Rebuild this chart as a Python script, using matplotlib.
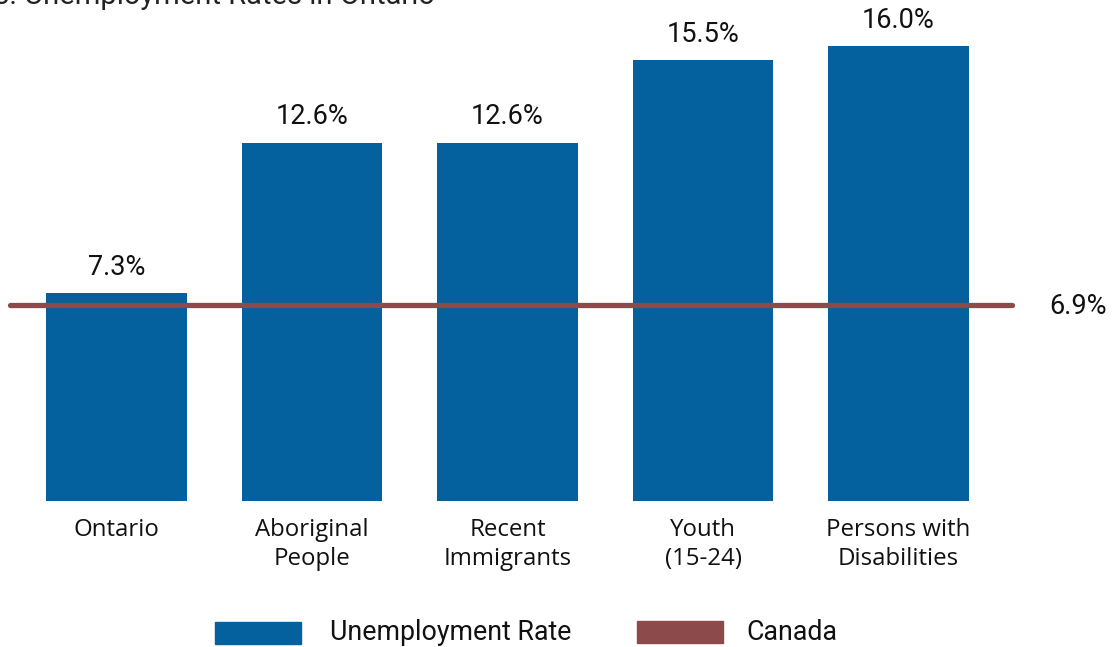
import numpy as np
import matplotlib.pyplot as plt
from matplotlib.patches import Rectangle

plt.rcParams['font.family'] = ['Roboto', 'DejaVu Sans']

# unemployment rates by group, Ontario
categories = ["Ontario", "Aboriginal\nPeople", "Recent\nImmigrants", "Youth\n(15-24)", "Persons with\nDisabilities"]
rates = [7.3, 12.6, 12.6, 15.5, 16.0]
canada_rate = 6.9

BLUE = "#05609e"
RED = "#8c4a4a"
INK = "#111111"

W, H = 1112, 647
fig = plt.figure(figsize=(W / 100, H / 100), dpi=100)

# axes fills the figure width, baseline of bars sits at y=501px from top
base_px = 501
ax = fig.add_axes([0, (H - base_px) / H, 1, base_px / H])
px_per_cat = 195.5
x0_px = 116.5
ax.set_xlim(-x0_px / px_per_cat, (W - x0_px) / px_per_cat)
px_per_unit = 455 / 16.0
ax.set_ylim(0, base_px / px_per_unit)

x = np.arange(len(categories))
ax.bar(x, rates, width=0.721, color=BLUE, zorder=2)

for xi, r in zip(x, rates):
    ax.text(xi, r + 26 / px_per_unit, f"{r:.1f}%", ha="center", va="center",
            fontsize=19.5, color=INK)

# Canada reference line
ax.plot([-0.545, 4.58], [canada_rate, canada_rate], color=RED, lw=3.8,
        solid_capstyle="round", zorder=3)
ax.text(4.77, canada_rate - 0.05, f"{canada_rate:.1f}%", ha="left", va="center",
        fontsize=19.5, color=INK)

ax.set_xticks(x)
ax.set_xticklabels(categories, fontsize=17.3, color=INK, linespacing=1.3,
                   family=['Open Sans', 'DejaVu Sans'])
ax.tick_params(axis="x", length=0, pad=12)
ax.set_yticks([])
for s in ax.spines.values():
    s.set_visible(False)
ax.patch.set_alpha(0)

# title, running off the top edge
fig.text(-0.006, 1 - 4 / H, "5. Unemployment Rates in Ontario", ha="left", va="baseline",
         fontsize=21, color="#222222")

# legend
def fx(px):
    return px / W

def fy(py):
    return 1 - py / H

fig.add_artist(Rectangle((fx(215), fy(644)), fx(86), 22 / H, transform=fig.transFigure,
                         color=BLUE))
fig.text(fx(330), fy(633), "Unemployment Rate", ha="left", va="center", fontsize=19.3,
         color=INK)
fig.add_artist(Rectangle((fx(637), fy(643)), fx(86), 22 / H, transform=fig.transFigure,
                         color=RED))
fig.text(fx(746), fy(633), "Canada", ha="left", va="center", fontsize=19.3, color=INK)

fig.savefig("out.png", dpi=100)
